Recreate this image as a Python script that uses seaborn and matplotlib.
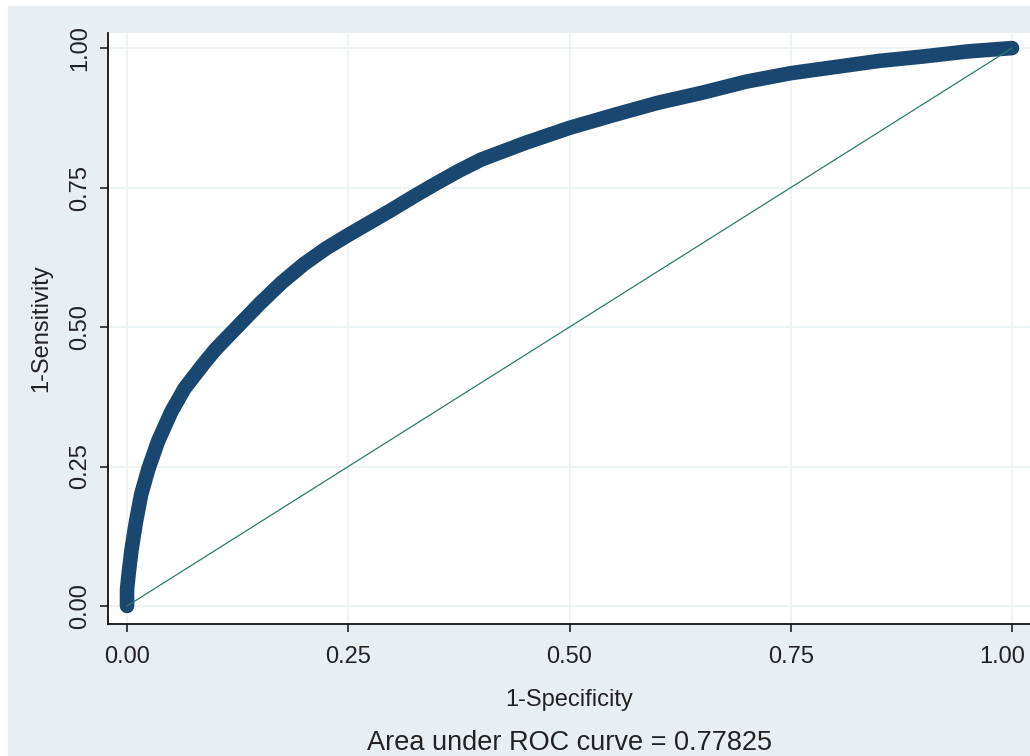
import matplotlib
matplotlib.use("Agg")
import matplotlib.pyplot as plt
import matplotlib.patches as mpatches
import matplotlib.transforms as mtransforms
import pandas as pd
import seaborn as sns

# ROC curve
fpr = [0.0, 0.0, 0.002, 0.005, 0.01, 0.016, 0.024, 0.035, 0.05, 0.065, 0.088, 0.1,
       0.128, 0.15, 0.175, 0.2, 0.225, 0.25, 0.275, 0.3, 0.325, 0.35, 0.375, 0.4,
       0.45, 0.5, 0.55, 0.6, 0.65, 0.7, 0.75, 0.8, 0.85, 0.9, 0.95, 1.0]
tpr = [0.0, 0.03, 0.06, 0.10, 0.15, 0.2, 0.245, 0.295, 0.348, 0.39, 0.437, 0.46,
       0.506, 0.542, 0.58, 0.613, 0.641, 0.665, 0.688, 0.711, 0.735, 0.758, 0.78, 0.80,
       0.83, 0.857, 0.88, 0.902, 0.92, 0.94, 0.955, 0.966, 0.977, 0.985, 0.994, 1.0]
ref_x = [0.0, 1.0]
ref_y = [0.0, 1.0]
ticks = [0.0, 0.25, 0.5, 0.75, 1.0]
tick_labels = ["0.00", "0.25", "0.50", "0.75", "1.00"]
auc_text = "Area under ROC curve = 0.77825"

bg = "#e8eff2"
sns.set_style("white")
plt.rcParams['font.family'] = ['Liberation Sans', 'DejaVu Sans']
plt.rcParams['font.size'] = 17

fig = plt.figure(figsize=(10.3, 7.56), dpi=100, facecolor="white")
fig.patches.append(mpatches.Rectangle((8 / 1030, 0), 1, (756 - 6) / 756,
                                      transform=fig.transFigure, color=bg, zorder=-10))
ax = fig.add_axes([108 / 1030, (756 - 624) / 756, 1 - 108 / 1030, (624 - 33) / 756])
ax.set_facecolor("white")

df = pd.DataFrame({"fpr": fpr, "tpr": tpr})
sns.lineplot(data=df, x="fpr", y="tpr", ax=ax, color="#1a476f", linewidth=10.5,
             solid_capstyle="round", solid_joinstyle="round", sort=False,
             estimator=None, zorder=3)
ax.plot(ref_x, ref_y, color="#2d7a6a", linewidth=0.9, zorder=4)

ax.set_xlim(-0.0215, 1.0203)
ax.set_ylim(-0.0323, 1.027)
ax.set_xticks(ticks)
ax.set_xticklabels(tick_labels)
ax.set_yticks(ticks)
ax.set_yticklabels(tick_labels, rotation=90, va="center")
ax.grid(True, color="#eaf2f3", linewidth=1.2)
ax.set_axisbelow(True)

for side in ["top", "right"]:
    ax.spines[side].set_visible(False)
for side in ["left", "bottom"]:
    ax.spines[side].set_color("#111111")
    ax.spines[side].set_linewidth(1.3)
ax.tick_params(axis="x", direction="out", length=6, width=1.1, color="#111111",
               labelsize=17, labelcolor="#222222", pad=10, bottom=True)
ax.tick_params(axis="y", direction="out", length=6, width=1.1, color="#111111",
               labelsize=17, labelcolor="#222222", pad=6, left=True)

# last x label sits a little left so it stays inside the figure
last = ax.get_xticklabels()[-1]
last.set_transform(last.get_transform() +
                   mtransforms.ScaledTranslation(-10 / 100, 0, fig.dpi_scale_trans))

ax.set_xlabel("1-Specificity", fontsize=17, color="#222222", labelpad=15)
ax.set_ylabel("1-Sensitivity", fontsize=17, color="#222222", labelpad=12)
ax.annotate(auc_text, xy=(0.5, 0), xycoords=("data", "axes fraction"),
            xytext=(0, -86), textcoords="offset points", ha="center", va="center",
            fontsize=19.5, color="#222222")

fig.savefig("out.png", dpi=100, facecolor=fig.get_facecolor())
